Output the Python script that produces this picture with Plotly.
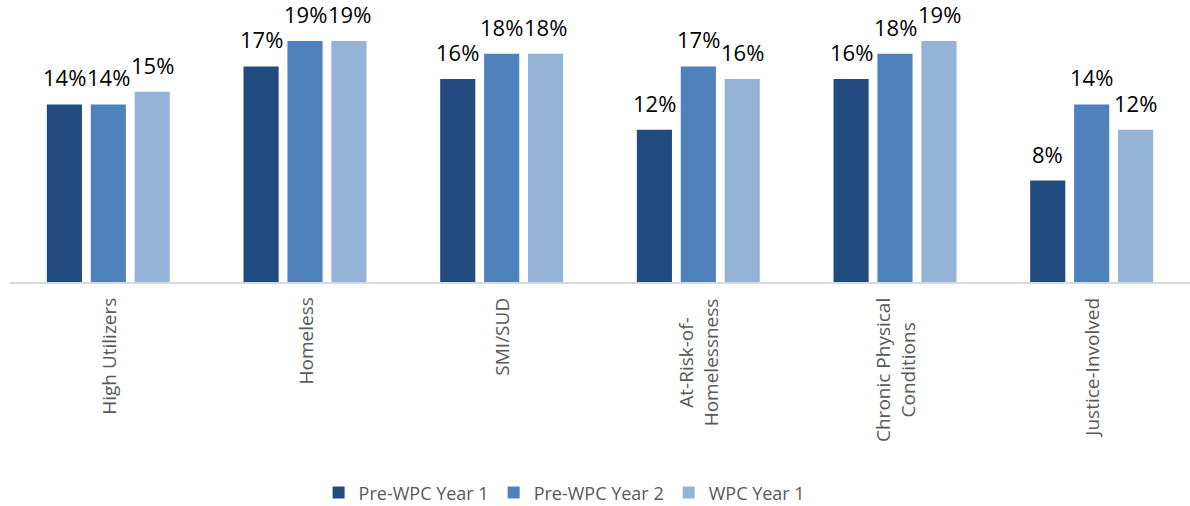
import plotly.graph_objects as go

categories = ["High Utilizers", "Homeless", "SMI/SUD",
              "At-Risk-of-<br>Homelessness", "Chronic Physical<br>Conditions",
              "Justice-Involved"]
series_names = ["Pre-WPC Year 1", "Pre-WPC Year 2", "WPC Year 1"]
pre_wpc_year1 = [14, 17, 16, 12, 16, 8]
pre_wpc_year2 = [14, 19, 18, 17, 18, 14]
wpc_year1 = [15, 19, 18, 16, 19, 12]
colors = ["#214A7E", "#4F81BD", "#95B3D7"]

series_values = [pre_wpc_year1, pre_wpc_year2, wpc_year1]
x_idx = list(range(len(categories)))

fig = go.Figure()
for name, vals, col in zip(series_names, series_values, colors):
    fig.add_trace(go.Bar(
        x=x_idx, y=vals, name=name,
        marker=dict(color=col, line=dict(width=0)),
    ))

annotations = []
# value labels above each bar, shifted to the bar's slot within its group
slot_px = 44
for i, vals in enumerate(series_values):
    for xi, v in zip(x_idx, vals):
        annotations.append(dict(
            x=xi, y=v, xref="x", yref="y", text=f"{v}%",
            showarrow=False, yanchor="bottom", xanchor="center",
            xshift=(i - 1) * slot_px, yshift=10,
            font=dict(family="Open Sans", size=22, color="#000000"),
        ))
# rotated category labels, centre aligned
for xi, cat in zip(x_idx, categories):
    annotations.append(dict(
        x=xi, y=0, xref="x", yref="y", text=cat, textangle=-90,
        showarrow=False, yanchor="top", xanchor="center", align="center",
        yshift=-14,
        font=dict(family="Open Sans", size=19, color="#595959"),
    ))

fig.update_layout(
    width=1190, height=506,
    margin=dict(l=10, r=0, t=3, b=224, autoexpand=False),
    paper_bgcolor="white", plot_bgcolor="white",
    barmode="group", bargap=0.33, bargroupgap=0.2,
    showlegend=True,
    legend=dict(orientation="h", x=0.47, xanchor="center",
                yref="container", y=0.026, yanchor="middle",
                font=dict(family="Open Sans", size=18, color="#595959"),
                traceorder="normal"),
    annotations=annotations,
    xaxis=dict(range=[-0.5, 5.5], showline=True, linecolor="#D9D9D9", linewidth=2,
               showticklabels=False, ticks="", showgrid=False, zeroline=False,
               fixedrange=True),
    yaxis=dict(range=[0, 22], visible=False, showgrid=False, zeroline=False,
               fixedrange=True),
)

fig.write_html("out.html")
